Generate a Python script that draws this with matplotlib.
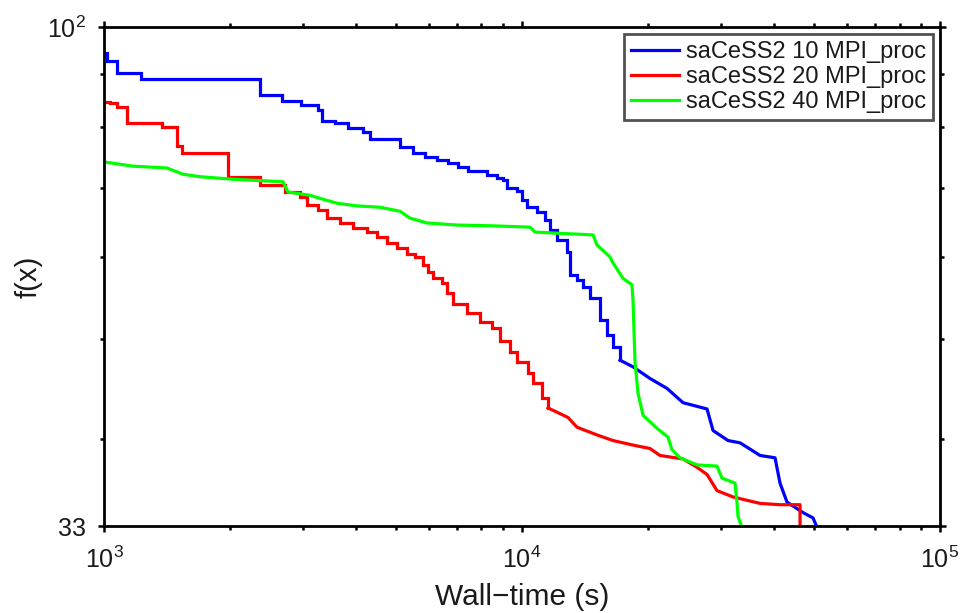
import matplotlib
matplotlib.use('Agg')
import matplotlib.pyplot as plt
from matplotlib.ticker import FixedLocator, FixedFormatter, NullFormatter

plt.rcParams['font.family'] = ['Liberation Sans', 'DejaVu Sans']
plt.rcParams['mathtext.fontset'] = 'custom'
plt.rcParams['mathtext.rm'] = 'Liberation Sans'
plt.rcParams['mathtext.it'] = 'Liberation Sans:italic'
plt.rcParams['mathtext.bf'] = 'Liberation Sans:bold'

# ---------------- data ----------------
labels = ['saCeSS2 10 MPI_proc', 'saCeSS2 20 MPI_proc', 'saCeSS2 40 MPI_proc']

t10 = [1000, 1017, 1074, 1226, 2362, 2666, 2960, 3251, 3323, 3569, 3834, 4165, 4329,
       5107, 5486, 5862, 6262, 6653, 7029, 7427, 8248, 8714, 9006, 9207, 9727, 10000,
       10280, 10860, 11350, 11670, 12130, 12810, 13020, 13540, 13990, 14540, 15370,
       15970, 16510, 17160, 18430, 20240, 22230, 24280, 27710, 28640, 31110, 33230,
       37110, 40300, 41420, 43050, 47010, 49680, 50780]
f10 = [94.4, 92.7, 90.3, 89.1, 86.0, 84.8, 84.1, 83.2, 81.2, 80.8, 79.9, 79.2, 78.0,
       76.6, 75.6, 74.9, 74.4, 73.9, 73.3, 72.6, 72.0, 71.5, 71.2, 69.9, 69.5, 68.1,
       67.0, 66.3, 65.1, 63.7, 62.3, 60.6, 57.6, 57.0, 56.1, 54.8, 52.1,
       50.4, 49.1, 47.7, 47.0, 45.8, 44.8, 43.4, 42.8, 40.8, 39.9, 39.7,
       38.6, 38.4, 36.3, 34.8, 34.0, 33.6, 32.9]

t20 = [1000, 1034, 1074, 1135, 1377, 1495, 1537, 1980, 2362, 2710, 2944, 3059, 3251,
       3416, 3670, 3942, 4258, 4499, 4754, 5023, 5307, 5546, 5796, 5958, 6125, 6436,
       6616, 6838, 7385, 7935, 8476, 8858, 9361, 9727, 10340, 10630, 11170, 11540,
       12880, 13540, 15120, 16510, 18430, 20240, 21380, 24280, 26220, 27710, 29270,
       31980, 37110, 41420, 46250, 46250]
f20 = [84.6, 84.5, 83.7, 80.8, 80.1, 76.8, 75.6, 71.7, 70.4, 69.3, 68.5, 67.3, 66.6,
       65.4, 64.7, 64.0, 63.4, 62.7, 61.9, 61.2, 60.4, 60.0, 58.9, 58.0, 57.2, 56.6,
       55.4, 54.0, 53.0, 51.9, 51.2, 49.8, 48.6, 47.5, 46.4, 45.3, 43.9, 42.9,
       42.0, 41.1, 40.4, 39.9, 39.5, 39.2, 38.6, 38.3, 37.6, 37.0, 35.7,
       35.2, 34.7, 34.6, 34.6, 32.9]

t40 = [1000, 1173, 1415, 1545, 1697, 2035, 2681, 2756, 3110, 3342, 3610, 4030, 4574,
       4833, 5107, 5396, 5926, 6990, 8383, 10450, 10740, 14790, 15120, 16230, 16510,
       17450, 18330, 18430, 18640, 18950, 19480, 21030, 22350, 22840, 23870, 26220,
       29270, 30090, 32330, 32690, 32870, 33600]
f40 = [74.1, 73.4, 73.1, 72.1, 71.7, 71.3, 70.9, 69.3, 68.8, 68.2, 67.6, 67.2, 67.0,
       66.7, 66.4, 65.4, 64.7, 64.4, 64.3, 64.1, 63.4, 63.0, 61.6, 60.0, 59.2,
       57.2, 56.4, 54.5, 47.4, 44.3, 42.2, 41.0, 40.2, 39.1, 38.4, 37.8,
       37.7, 36.7, 36.3, 34.7, 33.7, 32.9]

xticks = [1e3, 1e4, 1e5]
xticklabels = [r'$\mathregular{10^{3}}$', r'$\mathregular{10^{4}}$', r'$\mathregular{10^{5}}$']
yticks = [33, 100]
yticklabels = ['33', r'$\mathregular{10^{2}}$']
yminor = [40, 50, 60, 70, 80, 90]
xlabel = 'Wall\u2212time (s)'
ylabel = 'f(x)'

# number of leading points drawn as a staircase (rest drawn as line)
stair10 = 40
stair20 = 38

# ---------------- figure ----------------
fig = plt.figure(figsize=(9.71, 6.13), dpi=100)
ax = fig.add_axes([0.1071, 0.1419, 0.8610, 0.8141])

lw = 2.3
ax.plot(t10[:stair10], f10[:stair10], color='#0000ff', lw=lw, drawstyle='steps-post',
        label=labels[0], solid_joinstyle='miter')
ax.plot(t10[stair10 - 1:], f10[stair10 - 1:], color='#0000ff', lw=lw)
ax.plot(t20[:stair20], f20[:stair20], color='#ff0000', lw=lw, drawstyle='steps-post',
        label=labels[1], solid_joinstyle='miter')
ax.plot(t20[stair20 - 1:], f20[stair20 - 1:], color='#ff0000', lw=lw)
ax.plot(t40, f40, color='#00ff00', lw=lw, label=labels[2])

ax.set_xscale('log')
ax.set_yscale('log')
ax.set_xlim(1e3, 1e5)
ax.set_ylim(33, 100)

ax.xaxis.set_major_locator(FixedLocator(xticks))
ax.xaxis.set_major_formatter(FixedFormatter(xticklabels))
ax.yaxis.set_major_locator(FixedLocator(yticks))
ax.yaxis.set_major_formatter(FixedFormatter(yticklabels))
ax.yaxis.set_minor_locator(FixedLocator(yminor))
ax.yaxis.set_minor_formatter(NullFormatter())
ax.xaxis.set_minor_formatter(NullFormatter())

txtc = '#1a1a1a'
for s in ax.spines.values():
    s.set_linewidth(2.0)
    s.set_color('black')
ax.tick_params(which='both', direction='out', top=True, right=True, color='black',
               width=1.8, labelsize=18, labelcolor=txtc)
ax.tick_params(which='major', length=4)
ax.tick_params(which='minor', length=3)
ax.tick_params(axis='x', which='major', pad=11)
ax.tick_params(axis='y', which='major', pad=9)

ax.set_xlabel(xlabel, fontsize=21.5, color=txtc, labelpad=7)
ax.set_ylabel(ylabel, fontsize=21, color=txtc, labelpad=3)

leg = ax.legend(loc='upper right', fontsize=17, frameon=True, fancybox=False,
                borderaxespad=0.3, handlelength=2.0, handletextpad=0.3,
                labelspacing=0.12, borderpad=0.3)
leg.get_frame().set_edgecolor('#262626')
leg.get_frame().set_linewidth(2.0)
for t in leg.get_texts():
    t.set_color(txtc)

fig.savefig('out.png', dpi=100)
